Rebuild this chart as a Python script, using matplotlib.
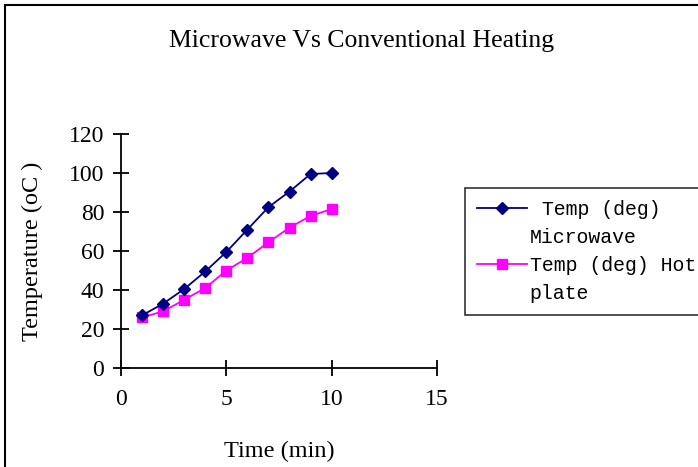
import matplotlib
matplotlib.use("Agg")
import matplotlib.pyplot as plt
from matplotlib.lines import Line2D
from matplotlib.patches import Rectangle

time_min = [1, 2, 3, 4, 5, 6, 7, 8, 9, 10]
temp_microwave = [27, 33, 40.5, 49.5, 59.5, 71, 82.5, 90.5, 99.5, 100]
temp_hotplate = [26, 29, 35, 41, 50, 56.5, 64.5, 72, 78, 81.5]

# legend text, split on the lines Excel wrapped it to
label_microwave = [" Temp (deg)", "Microwave"]
label_hotplate = ["Temp (deg) Hot", "plate"]

serif = ["Liberation Serif", "DejaVu Serif"]

fig = plt.figure(figsize=(6.98, 4.67), dpi=100)
# chart border, runs off the right and bottom edges like the original
fig.patches.append(Rectangle((5 / 698, -0.1), 1.2, 1 - 5 / 467 + 0.1,
                             transform=fig.transFigure, fill=False,
                             edgecolor="black", linewidth=1.5))

ax = fig.add_axes([121 / 698, 1 - 368 / 467, (437 - 121) / 698, (368 - 134) / 467])

mw, = ax.plot(time_min, temp_microwave, color="#000080", marker="D", markersize=6.5,
              linewidth=1.3, clip_on=False, zorder=4)
hp, = ax.plot(time_min, temp_hotplate, color="#FF00FF", marker="s", markersize=7.5,
              linewidth=1.3, clip_on=False, zorder=3)

ax.set_xlim(0, 15)
ax.set_ylim(0, 120)
ax.set_xticks([0, 5, 10, 15])
ax.set_yticks(range(0, 121, 20))
for s in ["top", "right"]:
    ax.spines[s].set_visible(False)
for s in ["left", "bottom"]:
    ax.spines[s].set_linewidth(1.3)
ax.tick_params(direction="inout", length=12, width=1.3, labelsize=17, pad=6)
for lbl in ax.get_xticklabels() + ax.get_yticklabels():
    lbl.set_family(serif)
ax.tick_params(axis="x", pad=9)

ax.set_xlabel("Time (min)", family=serif, fontsize=17.5, labelpad=22)
ax.set_ylabel("Temperature (oC )", family=serif, fontsize=17.5, labelpad=19)

fig.text(362 / 698, 1 - 41 / 467, "Microwave Vs Conventional Heating",
         family=serif, fontsize=18.5, ha="center", va="center")

# handle sits on the first line of each wrapped label, so give the second line a blank handle
blank = Line2D([], [], linestyle="none")
leg = ax.legend([mw, blank, hp, blank],
                label_microwave + label_hotplate,
                loc="upper left", bbox_to_anchor=(465 / 698, 1 - 188 / 467),
                bbox_transform=fig.transFigure, frameon=True, fancybox=False,
                prop={"family": ["Liberation Mono", "DejaVu Sans Mono"], "size": 14.3},
                handlelength=2.5, handletextpad=0.15, borderpad=0.6,
                labelspacing=0.45, borderaxespad=0)
leg.get_frame().set_edgecolor("black")
leg.get_frame().set_linewidth(1.2)

fig.savefig("out.png", dpi=100)
